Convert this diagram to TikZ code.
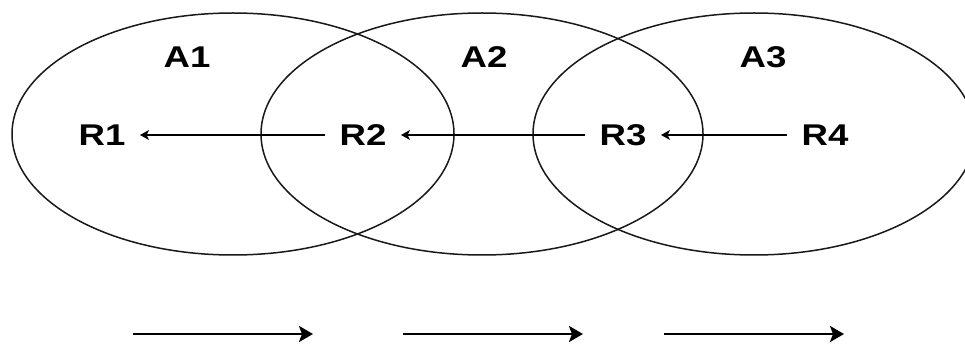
\documentclass[tikz,border=0pt]{standalone}
\usepackage{fontspec}
\setmainfont{Liberation Sans}
\usetikzlibrary{arrows.meta}
\begin{document}
\begin{tikzpicture}[x=1pt,y=-1pt,
  region/.style={draw=black!90, line width=1.5pt},
  lbl/.style={font=\fontsize{30}{34}\selectfont\bfseries, inner sep=0pt, xscale=1.22},
  rnode/.style={lbl, outer xsep=12pt},
  link/.style={draw, line width=1.2pt, -{Stealth[length=9pt,width=10pt,inset=2.5pt]}},
  flow/.style={draw, line width=2.5pt, -{Stealth[length=14pt,width=16pt,inset=3pt]}}]
\clip (0,0) rectangle (965,344);
\draw[region] (233,134) ellipse [x radius=221, y radius=121];
\draw[region] (482,134) ellipse [x radius=221, y radius=121];
\draw[region] (754,134) ellipse [x radius=221, y radius=121];
\node[lbl] (A1) at (187,57) {A1};
\node[lbl] (A2) at (484,57) {A2};
\node[lbl] (A3) at (763,57) {A3};
\node[rnode] (R1) at (102,135) {R1};
\node[rnode] (R2) at (363,135) {R2};
\node[rnode] (R3) at (623,135) {R3};
\node[rnode] (R4) at (825,135) {R4};
\draw[link] (R2) -- (R1);
\draw[link] (R3) -- (R2);
\draw[link] (R4) -- (R3);
\coordinate (b1s) at (133,334); \coordinate (b1e) at (313,334);
\coordinate (b2s) at (403,334); \coordinate (b2e) at (583,334);
\coordinate (b3s) at (664,334); \coordinate (b3e) at (844,334);
\draw[flow] (b1s) -- (b1e);
\draw[flow] (b2s) -- (b2e);
\draw[flow] (b3s) -- (b3e);
\end{tikzpicture}
\end{document}
